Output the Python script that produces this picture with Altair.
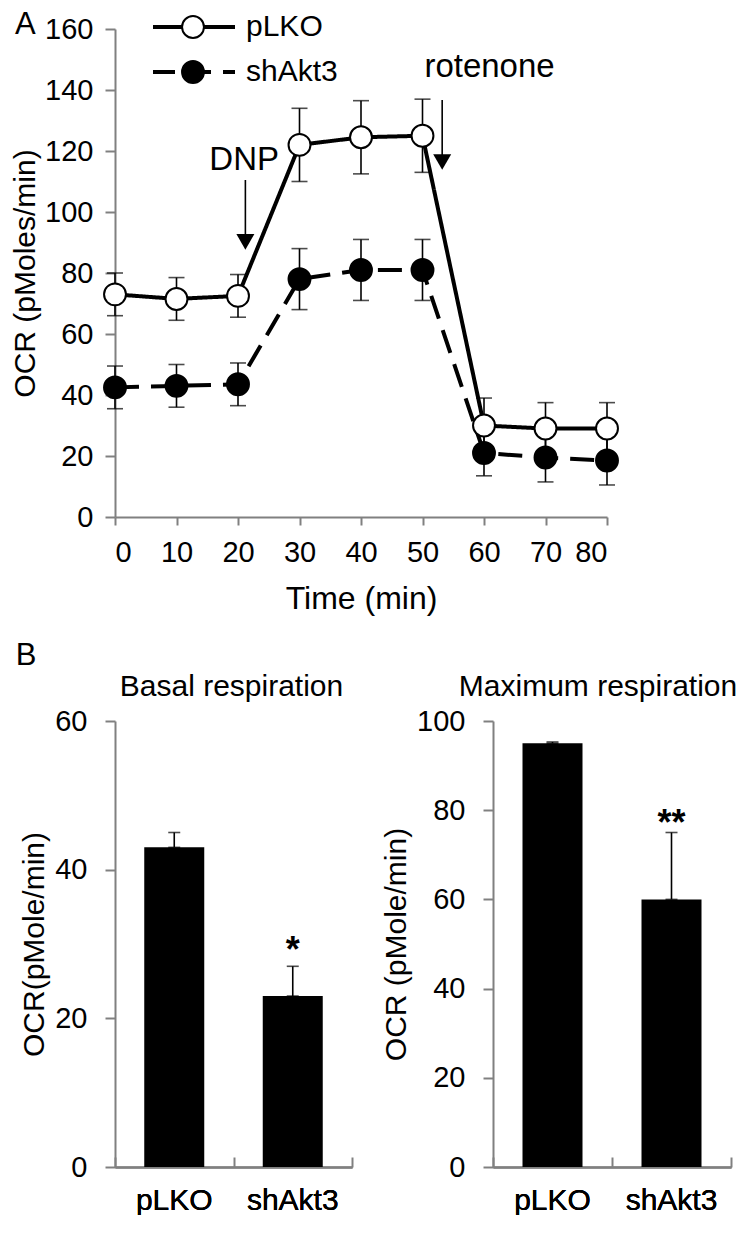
import altair as alt
import pandas as pd

FONT = "Liberation Sans"
GRAY = "#808080"

# ---------------- Panel A data ----------------
time_min = [0, 10, 20, 30, 40, 50, 60, 70, 80]
plko_ocr = [73, 71.5, 72.5, 122, 124.5, 125, 30, 29, 29]
plko_sem = [7, 7, 7, 12, 12, 12, 9, 8.5, 8.5]
sh_ocr = [42.5, 43, 43.5, 78, 81, 81, 21, 19.5, 18.5]
sh_sem = [7, 7, 7, 10, 10, 10, 7.5, 8, 8]
series_names = ["pLKO", "shAkt3"]

arrow_labels = ["DNP", "rotenone"]
arrow_x = [21.2, 53.2]
arrow_top = [110.5, 136.7]
arrow_head = [90.2, 116.4]
label_x = [21.0, 60.9]
label_y = [117.0, 147.5]

panel_letters = ["A"]

# ---------------- Panel B data ----------------
groups = ["pLKO", "shAkt3"]
basal_mean = [43, 23]
basal_err = [2, 4]
basal_sig = ["", "*"]
basal_sig_y = [0, 29]
max_mean = [95, 60]
max_err = [0.3, 15]
max_sig = ["", "**"]
max_sig_y = [0, 77]

# ---------------- tables ----------------
rows = []
for name, vals, errs in [("pLKO", plko_ocr, plko_sem), ("shAkt3", sh_ocr, sh_sem)]:
    for t, v, e in zip(time_min, vals, errs):
        rows.append({"series": name, "series2": name, "t": t, "v": v,
                     "lo": v - e, "hi": v + e})
ts = pd.DataFrame(rows)

arrows = pd.DataFrame({"label": arrow_labels, "ax": arrow_x, "top": arrow_top,
                       "head": arrow_head, "lx": label_x, "ly": label_y})

xs = alt.Scale(domain=[0, 80], nice=False)
ys = alt.Scale(domain=[0, 160], nice=False)
YT = "OCR (pMoles/min)"
XT = "Time (min)"

xaxA = alt.Axis(values=time_min, title=XT, grid=False, tickSize=8, labelPadding=13,
                titlePadding=16, labelFontSize=29, titleFontSize=32)
yaxA = alt.Axis(values=[0, 20, 40, 60, 80, 100, 120, 140, 160], title=YT, grid=False,
                tickSize=10, labelPadding=12, titlePadding=4, labelFontSize=29,
                titleFontSize=30)


def X(field):
    return alt.X(field, type="quantitative", scale=xs, axis=xaxA, title=XT)


def Y(field):
    return alt.Y(field, type="quantitative", scale=ys, axis=yaxA, title=YT)


TICKS_A = {"size": 16, "color": "black"}

err = alt.Chart(ts).mark_errorbar(ticks=TICKS_A, thickness=1.6, color="black").encode(
    x=X("t"), y=Y("lo"), y2="hi", detail="series:N")

leg_lines = alt.Legend(title=None, orient="none", legendX=36, legendY=-17, padding=0,
                       labelFontSize=30, labelFont=FONT, labelOffset=9, rowPadding=15,
                       clipHeight=30, symbolType="stroke", symbolSize=6724,
                       symbolStrokeWidth=4, symbolStrokeColor="black", symbolDashOffset=2)
lines = alt.Chart(ts).mark_line(color="black", strokeWidth=4).encode(
    x=X("t"), y=Y("v"),
    strokeDash=alt.StrokeDash("series:N",
                              scale=alt.Scale(domain=series_names, range=[[1, 0], [24, 12]]),
                              legend=leg_lines),
)

leg_pts = alt.Legend(title=None, orient="none", legendX=66, legendY=-17, padding=0,
                     labelFontSize=1, labelFont=FONT, labelOffset=2, rowPadding=15,
                     clipHeight=30, labelOpacity=0, symbolType="circle", symbolSize=480,
                     symbolStrokeWidth=2, symbolStrokeColor="black", symbolOpacity=1)
pts = alt.Chart(ts).mark_point(size=480, filled=True, stroke="black", strokeWidth=2,
                               opacity=1, shape="circle").encode(
    x=X("t"), y=Y("v"),
    fill=alt.Fill("series2:N",
                  scale=alt.Scale(domain=series_names, range=["white", "black"]),
                  legend=leg_pts),
)

arrow_rule = alt.Chart(arrows).mark_rule(color="black", strokeWidth=1.6).encode(
    x=X("ax"), y=Y("top"), y2="head")
arrow_tri = alt.Chart(arrows).mark_point(shape="triangle-down", size=324, filled=True,
                                         color="black", opacity=1).encode(x=X("ax"), y=Y("head"))
arrow_txt = alt.Chart(arrows).mark_text(fontSize=33, font=FONT, color="black",
                                        align="center", baseline="middle").encode(
    x=X("lx"), y=Y("ly"), text="label:N")

letterA = alt.Chart(pd.DataFrame({"letter": panel_letters})).mark_text(
    fontSize=31, font=FONT, color="black", align="left", baseline="middle"
).encode(x=alt.value(-100), y=alt.value(-4), text="letter:N")

panelA = alt.layer(
    arrow_rule, arrow_tri, arrow_txt, err, lines, pts, letterA
).resolve_legend(fill="independent", strokeDash="independent").properties(
    width=492, height=488)


# ---------------- Panel B ----------------
def bar_panel(means, errs, sigs, sig_y, ymax, title, ytitle, title_dx, width):
    df = pd.DataFrame({"group": groups, "mean": means,
                       "hi": [m + e for m, e in zip(means, errs)],
                       "sig": sigs, "sy": sig_y})
    xsc = alt.Scale(domain=groups, paddingInner=0, paddingOuter=0)
    ysc = alt.Scale(domain=[0, ymax], nice=False)
    yax = alt.Axis(values=list(range(0, ymax + 1, 20)), title=ytitle, grid=False,
                   tickSize=10, labelPadding=18, titlePadding=5, labelFontSize=29,
                   titleFontSize=30)
    xax = alt.Axis(title=None, orient="bottom", labelAngle=0, ticks=False, labelPadding=18,
                   labelFontSize=30)
    xax_ticks = alt.Axis(title=None, orient="bottom", labels=False, domain=False, ticks=True,
                         tickSize=10, tickBand="extent", offset=-10)

    def Yb(f):
        return alt.Y(f, type="quantitative", scale=ysc, axis=yax, title=ytitle)

    bars = alt.Chart(df).mark_bar(size=60, color="black").encode(
        x=alt.X("group:N", sort=groups, scale=xsc, axis=xax), y=Yb("mean"))
    tick_layer = alt.Chart(df).mark_bar(size=60, opacity=0).encode(
        x=alt.X("group:N", sort=groups, scale=xsc, axis=xax_ticks), y=Yb("mean"))
    eb = alt.Chart(df).mark_errorbar(
        ticks={"size": 12, "color": "black"}, thickness=1.6, color="black"
    ).encode(x=alt.X("group:N", sort=groups, scale=xsc, axis=xax), y=Yb("mean"), y2="hi")
    sig = alt.Chart(df).mark_text(fontSize=36, fontWeight="bold", font=FONT,
                                  baseline="middle", align="center").encode(
        x=alt.X("group:N", sort=groups, scale=xsc, axis=xax), y=Yb("sy"), text="sig:N")
    return alt.layer(bars, tick_layer, eb, sig).resolve_axis(x="independent").properties(
        width=width, height=446,
        title=alt.TitleParams(title, fontSize=30, font=FONT, fontWeight="normal",
                              anchor="middle", dx=title_dx, offset=5),
    )


basal = bar_panel(basal_mean, basal_err, basal_sig, basal_sig_y, 60, "Basal respiration",
                  "OCR(pMole/min)", -2, 237)
maxr = bar_panel(max_mean, max_err, max_sig, max_sig_y, 100, "Maximum respiration",
                 "OCR (pMole/min)", -14, 238)

panelB = alt.hconcat(basal, maxr, spacing=28).properties(
    title=alt.TitleParams("B", anchor="start", fontSize=31, font=FONT, fontWeight="normal",
                          offset=0, dx=-4)
)

chart = alt.vconcat(panelA, panelB, spacing=26).properties(
    padding={"left": 2, "top": 1, "right": 0, "bottom": 0}
).configure_view(
    stroke=None
).configure_axis(
    domainColor=GRAY, domainWidth=2, tickColor=GRAY, tickWidth=2, labelColor="black",
    labelFont=FONT, titleFont=FONT, titleColor="black", titleFontWeight="normal"
).configure_text(font=FONT)

chart.save("out.html", embed_options={"renderer": "svg", "actions": False})
